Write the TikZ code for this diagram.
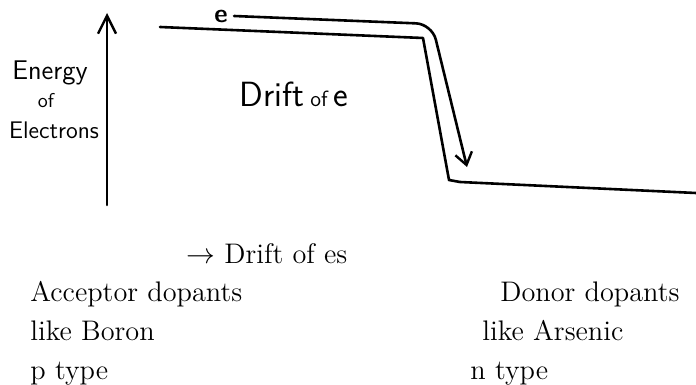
\documentclass[tikz,border=0pt]{standalone}
\usetikzlibrary{arrows.meta}
\begin{document}
\begin{tikzpicture}[x=0.5pt,y=-0.5pt,
  hand/.style={line width=1.3pt, line cap=round, line join=round},
  hw/.style={font=\sffamily\fontsize{12}{14}\selectfont, inner sep=0pt},
  txt/.style={font=\fontsize{14.15}{17}\selectfont, anchor=base west, inner sep=0pt}]
\useasboundingbox (0,0) rectangle (696,385);
% axis
\coordinate (axbot) at (107,205);
\coordinate (axtop) at (107,13);
\draw[hand, -{Straight Barb[length=9pt,width=9pt,line width=1.2pt]}] (axbot) -- (axtop);
% axis label
\node[hw, font=\sffamily\fontsize{13.5}{15}\selectfont] (en) at (50,73) {Energy};
\node[hw, font=\sffamily\fontsize{10}{12}\selectfont] (of) at (46,101) {of};
\node[hw] (el) at (54,130) {Electrons};
% energy level line
\coordinate (p1) at (160,27);
\coordinate (p2) at (423,38);
\coordinate (p3) at (449,180);
\coordinate (p3b) at (460,182);
\coordinate (p4) at (696,193);
\draw[hand] (p1) -- (p2) -- (p3) -- (p3b) -- (p4);
% electron path
\node[hw, font=\sffamily\bfseries\fontsize{13}{14}\selectfont] (e) at (221,16) {e};
\coordinate (q2) at (432,24);
\coordinate (q3) at (467,167);
\draw[hand, rounded corners=8pt, -{Straight Barb[length=6pt,width=8.5pt,line width=1.2pt]}] (e.east) ++(6,0) coordinate (q1) -- (q2) -- (q3);
% Drift of e
\node[hw, font=\sffamily\fontsize{17.5}{19}\selectfont] (drift) at (294,94) {Drift\,{\fontsize{11}{12}\selectfont of}\,e};
% bottom text
\node[txt] (t0) at (186,263) {$\rightarrow$ Drift of es};
\node[txt] (a1) at (30,301) {Acceptor dopants};
\node[txt] (a2) at (30,340) {like Boron};
\node[txt] (a3) at (30,379) {p type};
\node[txt] (d1) at (500,301) {Donor dopants};
\node[txt] (d2) at (482,340) {like Arsenic};
\node[txt] (d3) at (470,379) {n type};
\end{tikzpicture}
\end{document}
